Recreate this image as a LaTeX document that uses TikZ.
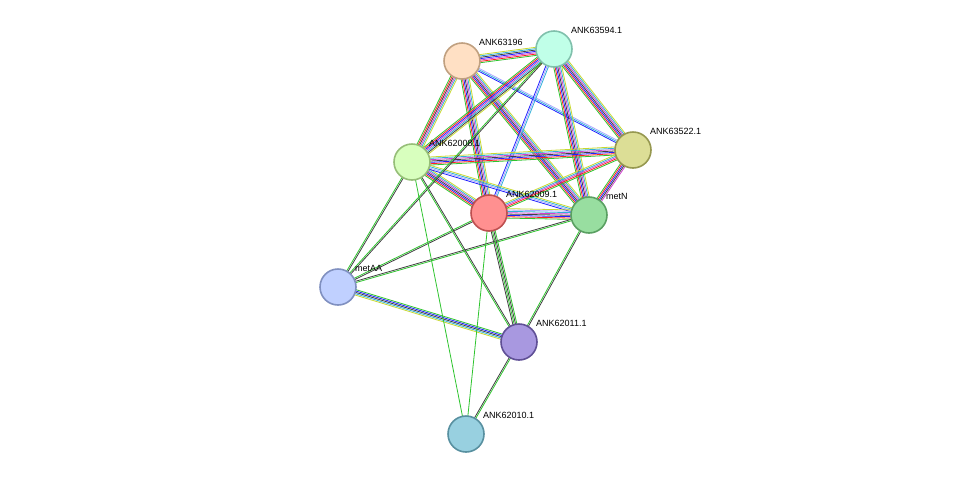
\documentclass[tikz,border=0pt]{standalone}
\usepackage{fontspec}
\setmainfont{Liberation Sans}
\usetikzlibrary{calc,backgrounds}
\definecolor{G}{HTML}{2EC42E}
\definecolor{R}{HTML}{FF2020}
\definecolor{B}{HTML}{2020FF}
\definecolor{C}{HTML}{30B0D8}
\definecolor{M}{HTML}{D040D0}
\definecolor{K}{HTML}{404040}
\definecolor{Y}{HTML}{C8D830}
\definecolor{L}{HTML}{A8A8FF}
\newcommand\bund[4]{%
  \foreach \c [count=\i] in {#4} {%
    \pgfmathsetmacro\o{(\i-1-(#3-1)/2)*1.35}%
    \draw[\c, line width=0.8pt] ($(#1)!\o pt!90:(#2)$) -- ($(#2)!\o pt!-90:(#1)$);
  }}
\begin{document}
\begin{tikzpicture}[x=1pt,y=-1pt,
  prot/.style={circle, minimum size=36pt, inner sep=0pt, line width=1.6pt},
  lab/.style={anchor=south west, font=\fontsize{9}{10}\selectfont, inner sep=1pt}]
\useasboundingbox (0,0) rectangle (975,480);
\node[prot, fill={rgb,255:red,255;green,224;blue,196}, draw={rgb,255:red,192;green,160;blue,128}] (a) at (462,61) {};
\node[prot, fill={rgb,255:red,192;green,255;blue,232}, draw={rgb,255:red,128;green,192;blue,172}] (b) at (554,49) {};
\node[prot, fill={rgb,255:red,220;green,222;blue,150}, draw={rgb,255:red,150;green,152;blue,80}] (c) at (633,150) {};
\node[prot, fill={rgb,255:red,216;green,255;blue,190}, draw={rgb,255:red,150;green,190;blue,120}] (d) at (412,162) {};
\node[prot, fill={rgb,255:red,255;green,144;blue,144}, draw={rgb,255:red,190;green,80;blue,80}] (e) at (489,213) {};
\node[prot, fill={rgb,255:red,152;green,222;blue,160}, draw={rgb,255:red,90;green,160;blue,98}] (f) at (589,215) {};
\node[prot, fill={rgb,255:red,192;green,208;blue,255}, draw={rgb,255:red,128;green,144;blue,192}] (g) at (338,287) {};
\node[prot, fill={rgb,255:red,168;green,152;blue,224}, draw={rgb,255:red,96;green,80;blue,150}] (h) at (519,342) {};
\node[prot, fill={rgb,255:red,152;green,208;blue,224}, draw={rgb,255:red,88;green,144;blue,160}] (i) at (466,434) {};
\node[lab] at (478,47) {ANK63196};
\node[lab] at (570,35) {ANK63594.1};
\node[lab] at (649,136) {ANK63522.1};
\node[lab] at (428,148) {ANK62008.1};
\node[lab] at (505,199) {ANK62009.1};
\node[lab] at (605,201) {metN};
\node[lab] at (354,273) {metAA};
\node[lab] at (535,328) {ANK62011.1};
\node[lab] at (482,420) {ANK62010.1};
\begin{scope}[on background layer]
\bund{a}{b}{7}{G,R,M,B,K,C,Y}
\bund{a}{d}{6}{G,R,K,M,C,Y}
\bund{a}{e}{7}{G,R,B,K,M,C,Y}
\bund{a}{f}{7}{G,R,B,K,M,C,Y}
\bund{a}{c}{3}{B,C,L}
\bund{b}{d}{7}{G,R,B,M,C,K,Y}
\bund{b}{e}{3}{B,L,C}
\bund{b}{f}{7}{G,R,B,K,M,C,Y}
\bund{b}{c}{7}{G,R,B,K,M,C,Y}
\bund{d}{c}{7}{G,R,B,K,M,C,Y}
\bund{d}{e}{7}{G,R,B,K,M,C,Y}
\bund{d}{f}{4}{B,L,C,Y}
\bund{e}{f}{8}{G,R,B,K,M,C,L,Y}
\bund{e}{c}{5}{G,R,M,C,Y}
\bund{c}{f}{5}{G,R,B,K,M}
\bund{g}{d}{2}{K,G}
\bund{g}{b}{2}{K,G}
\bund{g}{e}{2}{K,G}
\bund{g}{f}{2}{G,K}
\bund{g}{h}{5}{Y,C,K,B,G}
\bund{h}{d}{2}{K,G}
\bund{h}{e}{4}{G,K,G,K}
\bund{h}{f}{2}{K,G}
\bund{h}{i}{2}{K,G}
\bund{i}{d}{1}{G}
\bund{i}{e}{1}{G}
\end{scope}
\end{tikzpicture}
\end{document}
